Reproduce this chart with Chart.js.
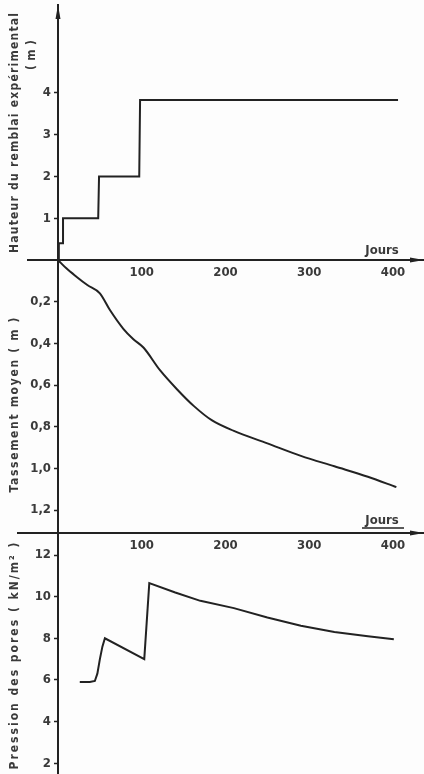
<!DOCTYPE html>
<html>
<head>
<meta charset="utf-8">
<script src="https://cdn.jsdelivr.net/npm/chart.js@4.4.0/dist/chart.umd.min.js"></script>
<style>
  html, body { margin: 0; padding: 0; background: #fff; }
  #wrap { position: relative; width: 424px; height: 774px; overflow: hidden; background: #fdfdfd; }
  canvas { position: absolute; left: 0; }
</style>
</head>
<body>
<div id="wrap">
  <canvas id="c1" width="424" height="290" style="top:0px"></canvas>
  <canvas id="c2" width="424" height="303" style="top:260px"></canvas>
  <canvas id="c3" width="424" height="241" style="top:533px"></canvas>
</div>
<script>
// data (days after start of filling)
const dayTicks = [100, 200, 300, 400];

// fill height (m), stepped loading
const heightDays = [0, 1, 6, 6, 48, 49, 97, 98, 406];
const heightMeters = [0, 0.4, 0.4, 1.0, 1.0, 2.0, 2.0, 3.83, 3.83];
const heightTicks = [1, 2, 3, 4];

// mean settlement (m)
const settleDays = [0, 10, 22, 35, 50, 62, 78, 90, 102, 122, 142, 162, 184, 210, 250, 290, 330, 370, 404];
const settleMeters = [0, 0.04, 0.08, 0.12, 0.16, 0.24, 0.33, 0.38, 0.42, 0.53, 0.62, 0.70, 0.77, 0.82, 0.88, 0.94, 0.99, 1.04, 1.09];
const settleTicks = [0.2, 0.4, 0.6, 0.8, 1.0, 1.2];

// pore pressure (kN/m2)
const poreDays = [26, 38, 44, 47, 50, 53, 56, 103, 109, 140, 170, 210, 250, 290, 330, 370, 401];
const porePressure = [5.9, 5.9, 5.95, 6.3, 7.0, 7.6, 8.0, 7.0, 10.65, 10.2, 9.8, 9.45, 9.0, 8.6, 8.3, 8.1, 7.95];
const poreTicks = [2, 4, 6, 8, 10, 12];

const FONT = "'DejaVu Sans Condensed', 'Liberation Sans Narrow', 'DejaVu Sans', sans-serif";
const INK = '#222';
const TEXT = '#3a3a3a';

const toPoints = (xs, ys) => xs.map((x, i) => ({ x: x, y: ys[i] }));

// axis extras: titles, "Jours", arrows, left extension of the x axis
const decor = {
    id: 'decor',
    afterDraw(chart, args, o) {
        const ctx = chart.ctx;
        const a = chart.chartArea;
        ctx.save();
        ctx.strokeStyle = INK;
        ctx.fillStyle = INK;
        ctx.lineWidth = 2;
        if (o.axisFrom != null) {
            ctx.beginPath();
            ctx.moveTo(o.axisFrom, a.bottom);
            ctx.lineTo(a.left, a.bottom);
            ctx.stroke();
            // arrow at the right end
            ctx.beginPath();
            ctx.moveTo(424, a.bottom);
            ctx.lineTo(410, a.bottom - 2.5);
            ctx.lineTo(410, a.bottom + 2.5);
            ctx.closePath();
            ctx.fill();
        }
        if (o.arrowTop) {
            ctx.beginPath();
            ctx.moveTo(a.left, a.top);
            ctx.lineTo(a.left - 2.5, a.top + 14);
            ctx.lineTo(a.left + 2.5, a.top + 14);
            ctx.closePath();
            ctx.fill();
        }
        ctx.fillStyle = TEXT;
        ctx.font = 'bold 13px ' + FONT;
        ctx.textBaseline = 'middle';
        if (o.jours) {
            ctx.textAlign = 'center';
            ctx.fillText('Jours', o.jours.x, o.jours.y);
            if (o.jours.underline) {
                ctx.lineWidth = 1.5;
                ctx.beginPath();
                ctx.moveTo(o.jours.x - 20, o.jours.y + 7);
                ctx.lineTo(o.jours.x + 22, o.jours.y + 7);
                ctx.stroke();
            }
        }
        ctx.font = 'bold 12px ' + FONT;
        ctx.textAlign = 'left';
        for (const t of o.titles || []) {
            ctx.save();
            ctx.translate(t.x, t.y);
            ctx.rotate(-Math.PI / 2);
            ctx.letterSpacing = '0px';
            const w = ctx.measureText(t.text).width;
            const sp = Math.max(0, (t.len - w) / (t.text.length - 1));
            ctx.letterSpacing = sp + 'px';
            ctx.fillText(t.text, -t.len / 2, 0);
            ctx.restore();
        }
        ctx.restore();
    }
};

function xScale(show) {
    return {
        type: 'linear',
        min: 0,
        max: 437,
        display: show,
        afterBuildTicks: s => { s.ticks = dayTicks.map(v => ({ value: v })); },
        afterFit: s => {
            if (show) s.height = 30;
            s.paddingLeft = 0;
            s.paddingRight = 0;
        },
        ticks: { color: TEXT, font: { family: FONT, size: 13, weight: 'bold' }, padding: 5, maxRotation: 0 },
        grid: { drawOnChartArea: false, drawTicks: false },
        border: { color: INK, width: 2 }
    };
}

function yScale(min, max, ticks, fmt, reverse) {
    return {
        type: 'linear',
        min: min,
        max: max,
        reverse: !!reverse,
        afterBuildTicks: s => { s.ticks = ticks.map(v => ({ value: v })); },
        afterFit: s => { s.width = 58; s.paddingTop = 0; s.paddingBottom = 0; },
        ticks: { color: TEXT, font: { family: FONT, size: 13, weight: 'bold' }, padding: 3, callback: fmt },
        grid: { drawOnChartArea: false, drawTicks: true, tickLength: 4, color: INK, tickWidth: 1.5 },
        border: { color: INK, width: 2 }
    };
}

function makeChart(id, points, tension, scales, padTop, decorOpts) {
    return new Chart(document.getElementById(id), {
        type: 'line',
        data: {
            datasets: [{
                data: points,
                borderColor: INK,
                borderWidth: 2,
                pointRadius: 0,
                tension: tension,
                cubicInterpolationMode: tension ? 'monotone' : 'default'
            }]
        },
        options: {
            responsive: false,
            animation: false,
            layout: { padding: { top: padTop, right: 0, left: 0, bottom: 0 } },
            scales: scales,
            plugins: {
                legend: { display: false },
                tooltip: { enabled: false },
                decor: decorOpts
            }
        },
        plugins: [decor]
    });
}

const plain = v => String(v);
const comma = v => v.toFixed(1).replace('.', ',');

makeChart('c1', toPoints(heightDays, heightMeters), 0,
    { x: xScale(true), y: yScale(0, 6.1, heightTicks, plain) }, 5,
    {
        axisFrom: 27,
        arrowTop: true,
        jours: { x: 382, y: 251 },
        titles: [
            { text: 'Hauteur du remblai expérimental', x: 15, y: 133, len: 240 },
            { text: '( m )', x: 32, y: 55, len: 30 }
        ]
    });

makeChart('c2', toPoints(settleDays, settleMeters), 0.4,
    { x: xScale(true), y: yScale(0, 1.31, settleTicks, comma, true) }, 0,
    {
        axisFrom: 17,
        jours: { x: 382, y: 261, underline: true },
        titles: [
            { text: 'Tassement moyen ( m )', x: 15, y: 145, len: 175 }
        ]
    });

makeChart('c3', toPoints(poreDays, porePressure), 0,
    { x: xScale(false), y: yScale(1.48, 13.06, poreTicks, plain) }, 0,
    {
        titles: [
            { text: 'Pression des pores ( kN/m² )', x: 15, y: 123, len: 227 }
        ]
    });
</script>
</body>
</html>
